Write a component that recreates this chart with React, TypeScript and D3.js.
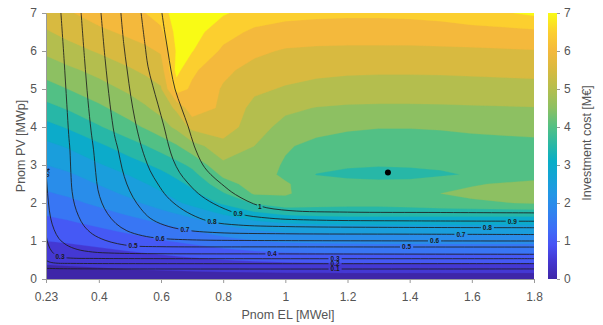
import { useEffect, useRef } from 'react';
import * as d3 from 'd3';

const W = 603;
const H = 325;

// Grid of the filled contour: investment cost [M€]
const gridX = [0.23, 0.3, 0.4, 0.5, 0.55, 0.6, 0.65, 0.7, 0.8, 0.9, 1.0, 1.1, 1.2, 1.3, 1.4, 1.5, 1.6, 1.8];
const gridY = [0, 0.25, 0.5, 0.75, 1, 1.25, 1.5, 1.75, 2, 2.25, 2.5, 2.75, 3, 3.5, 4, 4.5, 5, 5.5, 6, 6.5, 7];
const costRows = [
  [0.15, 0.15, 0.16, 0.17, 0.18, 0.18, 0.19, 0.19, 0.2, 0.2, 0.2, 0.2, 0.2, 0.2, 0.2, 0.2, 0.2, 0.2],
  [0.4, 0.42, 0.45, 0.49, 0.51, 0.53, 0.55, 0.57, 0.6, 0.63, 0.65, 0.66, 0.67, 0.67, 0.67, 0.67, 0.67, 0.67],
  [0.6, 0.63, 0.68, 0.75, 0.79, 0.83, 0.87, 0.91, 0.99, 1.06, 1.11, 1.14, 1.15, 1.16, 1.16, 1.16, 1.16, 1.16],
  [0.8, 0.84, 0.92, 1.02, 1.07, 1.13, 1.19, 1.26, 1.4, 1.52, 1.6, 1.63, 1.65, 1.66, 1.66, 1.66, 1.66, 1.66],
  [1.0, 1.05, 1.16, 1.3, 1.38, 1.46, 1.54, 1.63, 1.82, 1.98, 2.07, 2.11, 2.13, 2.15, 2.15, 2.15, 2.15, 2.15],
  [1.2, 1.26, 1.4, 1.56, 1.65, 1.75, 1.85, 1.96, 2.2, 2.43, 2.55, 2.59, 2.61, 2.62, 2.62, 2.62, 2.62, 2.62],
  [1.38, 1.46, 1.62, 1.82, 1.93, 2.05, 2.18, 2.32, 2.64, 2.92, 3.07, 3.12, 3.14, 3.15, 3.15, 3.15, 3.15, 3.15],
  [1.56, 1.66, 1.86, 2.1, 2.24, 2.39, 2.55, 2.72, 3.1, 3.45, 3.65, 3.72, 3.75, 3.75, 3.75, 3.75, 3.75, 3.75],
  [1.75, 1.87, 2.1, 2.38, 2.55, 2.73, 2.93, 3.13, 3.58, 4.05, 4.3, 4.2, 4.15, 4.15, 4.2, 4.3, 4.4, 4.55],
  [1.95, 2.07, 2.32, 2.6, 2.77, 2.95, 3.15, 3.37, 3.95, 4.55, 4.55, 4.3, 4.2, 4.2, 4.35, 4.5, 4.62, 4.8],
  [2.12, 2.25, 2.52, 2.82, 2.98, 3.15, 3.37, 3.6, 4.3, 4.7, 4.55, 4.25, 4.2, 4.2, 4.2, 4.33, 4.45, 4.65],
  [2.3, 2.43, 2.72, 3.03, 3.2, 3.38, 3.6, 3.85, 4.6, 4.75, 4.4, 3.98, 3.85, 3.75, 3.8, 3.92, 4.05, 4.25],
  [2.5, 2.65, 2.95, 3.28, 3.45, 3.63, 3.85, 4.1, 4.9, 4.75, 4.45, 4.18, 4.08, 4.05, 4.07, 4.1, 4.15, 4.25],
  [2.87, 3.05, 3.4, 3.78, 3.98, 4.2, 4.45, 4.8, 5.3, 5.0, 4.55, 4.38, 4.3, 4.27, 4.27, 4.3, 4.35, 4.4],
  [3.33, 3.55, 3.95, 4.35, 4.55, 4.8, 5.1, 5.65, 5.8, 5.2, 4.85, 4.65, 4.56, 4.52, 4.52, 4.54, 4.58, 4.62],
  [3.84, 4.05, 4.4, 4.75, 4.95, 5.15, 5.6, 6.3, 5.9, 5.35, 5.1, 4.98, 4.93, 4.92, 4.92, 4.93, 4.95, 4.98],
  [4.3, 4.5, 4.8, 5.1, 5.25, 5.45, 6.75, 6.4, 5.95, 5.6, 5.45, 5.35, 5.3, 5.28, 5.28, 5.28, 5.3, 5.32],
  [4.7, 4.9, 5.15, 5.45, 5.6, 5.75, 7.15, 6.6, 6.1, 5.85, 5.7, 5.62, 5.58, 5.57, 5.57, 5.58, 5.6, 5.65],
  [5.1, 5.3, 5.55, 5.8, 5.9, 6.05, 7.05, 7.02, 6.4, 6.1, 5.95, 5.9, 5.88, 5.88, 5.88, 5.9, 5.92, 5.97],
  [5.45, 5.65, 5.9, 6.1, 6.2, 6.4, 7.15, 7.2, 6.7, 6.4, 6.3, 6.28, 6.27, 6.27, 6.28, 6.3, 6.32, 6.4],
  [5.75, 5.95, 6.2, 6.4, 6.5, 6.7, 7.3, 7.4, 7.05, 6.8, 6.65, 6.6, 6.58, 6.58, 6.6, 6.65, 6.8, 7.1],
];

const costLevels = [0, 0.5, 1, 1.5, 2, 2.5, 3, 3.5, 4, 4.5, 5, 5.5, 6, 6.5, 7];
const xTicks = [0.23, 0.4, 0.6, 0.8, 1, 1.2, 1.4, 1.6, 1.8];
const yTicks = [0, 1, 2, 3, 4, 5, 6, 7];
const cbarTicks = [0, 1, 2, 3, 4, 5, 6, 7];

// parula-like colour map
const mapStops = [0, 0.071, 0.127, 0.19, 0.254, 0.317, 0.381, 0.444, 0.5, 0.571, 0.643, 0.714, 0.786, 0.857, 0.929, 1];
const mapColors = [
  '#3e26a8', '#4438d3', '#4852f4', '#3d6ef7', '#2f84ee', '#2396e6', '#14a3d6', '#0aaec6',
  '#27b7a7', '#52c085', '#8dc062', '#b4be4e', '#d8ba40', '#f4b93c', '#fccf2f', '#f9fb15',
];

// iso-lines of the second quantity
const ratioLines = [
  { level: 1, points: [[0.603, 7], [0.612, 6.5], [0.622, 6.0], [0.632, 5.5], [0.645, 5.0], [0.666, 4.5], [0.688, 4.0], [0.707, 3.5], [0.735, 3.0], [0.76, 2.75], [0.795, 2.5], [0.84, 2.22], [0.918, 1.92], [1.015, 1.8], [1.2, 1.76], [1.5, 1.75], [1.8, 1.74]] },
  { level: 0.9, points: [[0.536, 7], [0.548, 6.2], [0.558, 5.6], [0.573, 5.1], [0.59, 4.6], [0.61, 4.0], [0.625, 3.5], [0.639, 3.14], [0.66, 2.8], [0.684, 2.55], [0.72, 2.25], [0.77, 1.98], [0.848, 1.72], [0.95, 1.6], [1.1, 1.55], [1.4, 1.53], [1.8, 1.52]] },
  { level: 0.8, points: [[0.471, 7], [0.48, 6.2], [0.491, 5.5], [0.503, 4.8], [0.516, 4.2], [0.533, 3.6], [0.548, 3.2], [0.565, 2.85], [0.59, 2.5], [0.619, 2.17], [0.66, 1.88], [0.71, 1.65], [0.764, 1.5], [0.85, 1.42], [1.0, 1.38], [1.3, 1.36], [1.8, 1.35]] },
  { level: 0.7, points: [[0.407, 7], [0.42, 5.8], [0.436, 4.6], [0.45, 3.8], [0.462, 3.4], [0.475, 2.9], [0.49, 2.5], [0.51, 2.15], [0.535, 1.85], [0.565, 1.6], [0.61, 1.42], [0.677, 1.29], [0.78, 1.22], [1.0, 1.19], [1.4, 1.18], [1.8, 1.17]] },
  { level: 0.6, points: [[0.343, 7], [0.354, 5.8], [0.365, 4.7], [0.375, 3.9], [0.383, 3.4], [0.39, 2.8], [0.397, 2.35], [0.41, 2.0], [0.428, 1.72], [0.455, 1.46], [0.49, 1.27], [0.54, 1.14], [0.597, 1.07], [0.7, 1.03], [1.0, 1.01], [1.8, 1.0]] },
  { level: 0.5, points: [[0.278, 7], [0.288, 5.8], [0.297, 4.6], [0.303, 3.8], [0.307, 3.4], [0.31, 2.8], [0.314, 2.3], [0.322, 1.95], [0.335, 1.65], [0.352, 1.4], [0.38, 1.18], [0.42, 1.02], [0.46, 0.93], [0.51, 0.87], [0.6, 0.85], [1.0, 0.845], [1.8, 0.84]] },
  { level: 0.4, points: [[0.229, 3.0], [0.233, 2.5], [0.238, 2.0], [0.245, 1.6], [0.256, 1.3], [0.272, 1.06], [0.295, 0.9], [0.33, 0.78], [0.38, 0.71], [0.45, 0.68], [0.6, 0.665], [1.0, 0.66], [1.8, 0.65]] },
  { level: 0.3, points: [[0.229, 1.25], [0.234, 1.0], [0.243, 0.8], [0.256, 0.66], [0.275, 0.58], [0.31, 0.55], [0.4, 0.54], [1.8, 0.535]] },
  { level: 0.2, points: [[0.229, 0.5], [0.24, 0.45], [0.26, 0.42], [0.32, 0.41], [1.8, 0.405]] },
  { level: 0.1, points: [[0.229, 0.28], [0.3, 0.27], [1.8, 0.265]] },
];

// [level, x, y, rotation]
const ratioLabels = [
  [1, 0.918, 1.91, 0], [0.9, 0.848, 1.72, 0], [0.9, 1.73, 1.52, 0], [0.8, 0.764, 1.5, 0], [0.8, 1.65, 1.355, 0],
  [0.7, 0.677, 1.29, 0], [0.7, 1.565, 1.175, 0], [0.6, 0.597, 1.07, 0], [0.6, 1.48, 1.0, 0], [0.5, 0.51, 0.87, 0],
  [0.5, 1.39, 0.842, 0], [0.4, 0.957, 0.66, 0], [0.4, 0.234, 2.8, -85], [0.3, 0.275, 0.58, 0], [0.3, 1.16, 0.537, 0],
  [0.2, 1.16, 0.406, 0], [0.1, 1.16, 0.267, 0],
];

const optimum = [1.33, 2.8];

const FONT = 'Liberation Sans, Arial, Helvetica, sans-serif';

export default function App() {
  const svgRef = useRef<SVGSVGElement>(null);

  useEffect(() => {
    if (!svgRef.current) return;
    const svg = d3.select(svgRef.current);
    svg.selectAll('*').remove();

    const left = 46, right = 534, top = 13, bottom = 279;
    const x = d3.scaleLinear().domain([0.23, 1.8]).range([left, right]);
    const y = d3.scaleLinear().domain([0, 7]).range([bottom, top]);
    const fmt = d3.format('~g');

    const cmap = d3.scaleLinear<string>().domain(mapStops).range(mapColors).interpolate(d3.interpolateRgb).clamp(true);
    const color = (v: number) => cmap(v / 7);

    const defs = svg.append('defs');
    defs.append('clipPath').attr('id', 'plotClip')
      .append('rect').attr('x', left).attr('y', top).attr('width', right - left).attr('height', bottom - top);

    // filled contours
    const n = gridX.length;
    const m = gridY.length;
    const values = costRows.flat();
    const bands = d3.contours().size([n, m]).thresholds(costLevels)(values);
    const ix = d3.scaleLinear().domain(d3.range(n)).range(gridX);
    const iy = d3.scaleLinear().domain(d3.range(m)).range(gridY);
    const proj = d3.geoTransform({
      point(px: number, py: number) {
        this.stream.point(x(ix(px - 0.5)), y(iy(py - 0.5)));
      },
    });
    const path = d3.geoPath(proj);

    const plot = svg.append('g').attr('clip-path', 'url(#plotClip)');
    plot.append('g')
      .selectAll('path')
      .data(bands)
      .enter()
      .append('path')
      .attr('d', (d) => path(d as any) || '')
      .attr('fill', (d) => color(d.value))
      .attr('stroke', (d) => color(d.value))
      .attr('stroke-width', 0.3);

    // mask to break iso-lines under labels
    const mask = defs.append('mask').attr('id', 'lblMask').attr('maskUnits', 'userSpaceOnUse')
      .attr('x', 0).attr('y', 0).attr('width', W).attr('height', H);
    mask.append('rect').attr('x', 0).attr('y', 0).attr('width', W).attr('height', H).attr('fill', '#fff');
    ratioLabels.forEach(([lv, lx, ly, rot]) => {
      const w = String(lv).length * 3.7 + 2;
      mask.append('rect')
        .attr('x', -w / 2).attr('y', -3.5).attr('width', w).attr('height', 7)
        .attr('transform', `translate(${x(lx)},${y(ly)}) rotate(${rot})`)
        .attr('fill', '#000');
    });

    const line = d3.line<number[]>()
      .x((d) => x(d[0]))
      .y((d) => y(d[1]))
      .curve(d3.curveCatmullRom.alpha(0.5));

    plot.append('g')
      .attr('mask', 'url(#lblMask)')
      .selectAll('path')
      .data(ratioLines)
      .enter()
      .append('path')
      .attr('d', (d) => line(d.points))
      .attr('fill', 'none')
      .attr('stroke', '#1e1e1e')
      .attr('stroke-width', 0.85);

    plot.append('g')
      .selectAll('text')
      .data(ratioLabels)
      .enter()
      .append('text')
      .attr('transform', (d) => `translate(${x(d[1])},${y(d[2])}) rotate(${d[3]})`)
      .attr('text-anchor', 'middle')
      .attr('dy', '0.35em')
      .attr('font-family', FONT)
      .attr('font-size', 6.5)
      .attr('font-weight', 700)
      .attr('fill', '#1a1a1a')
      .text((d) => String(d[0]));

    plot.append('circle')
      .attr('cx', x(optimum[0]))
      .attr('cy', y(optimum[1]))
      .attr('r', 3)
      .attr('fill', '#000');

    // axes
    const gx = svg.append('g')
      .attr('transform', `translate(0,${bottom})`)
      .call(d3.axisBottom(x).tickValues(xTicks).tickFormat(fmt as any).tickSize(4).tickSizeOuter(0).tickPadding(9));
    const gy = svg.append('g')
      .attr('transform', `translate(${left},0)`)
      .call(d3.axisLeft(y).tickValues(yTicks).tickFormat(fmt as any).tickSize(4).tickSizeOuter(0).tickPadding(5));

    [gx, gy].forEach((g) => {
      g.selectAll('.domain, .tick line').attr('stroke', '#9a9a9a');
      g.selectAll('text').attr('fill', '#555').attr('font-size', 12).attr('font-family', FONT);
    });

    svg.append('text')
      .attr('x', (left + right) / 2 - 2)
      .attr('y', 319)
      .attr('text-anchor', 'middle')
      .attr('font-family', FONT)
      .attr('font-size', 12.5)
      .attr('fill', '#555')
      .text('Pnom EL [MWel]');

    svg.append('text')
      .attr('transform', `translate(25,${(top + bottom) / 2}) rotate(-90)`)
      .attr('text-anchor', 'middle')
      .attr('font-family', FONT)
      .attr('font-size', 12.5)
      .attr('fill', '#555')
      .text('Pnom PV [MWp]');

    // colour bar
    const cbX = 548, cbW = 9;
    const grad = defs.append('linearGradient').attr('id', 'cbarGrad')
      .attr('x1', 0).attr('y1', 1).attr('x2', 0).attr('y2', 0);
    mapStops.forEach((s, i) => {
      grad.append('stop').attr('offset', s).attr('stop-color', mapColors[i]);
    });
    svg.append('rect')
      .attr('x', cbX).attr('y', top).attr('width', cbW).attr('height', bottom - top)
      .attr('fill', 'url(#cbarGrad)');

    const cy = d3.scaleLinear().domain([0, 7]).range([bottom, top]);
    const gc = svg.append('g')
      .attr('transform', `translate(${cbX + cbW},0)`)
      .call(d3.axisRight(cy).tickValues(cbarTicks).tickFormat(fmt as any).tickSize(3).tickSizeOuter(0).tickPadding(4));
    gc.select('.domain').remove();
    gc.selectAll('.tick line').attr('stroke', '#9a9a9a');
    gc.selectAll('text').attr('fill', '#555').attr('font-size', 12).attr('font-family', FONT);

    svg.append('text')
      .attr('transform', `translate(591,${(top + bottom) / 2 - 3}) rotate(-90)`)
      .attr('text-anchor', 'middle')
      .attr('font-family', FONT)
      .attr('font-size', 12.5)
      .attr('fill', '#555')
      .text('Investment cost [M€]');
  }, []);

  return (
    <svg
      ref={svgRef}
      width={W}
      height={H}
      style={{ position: 'absolute', left: 0, top: 0, background: '#fff' }}
    />
  );
}
